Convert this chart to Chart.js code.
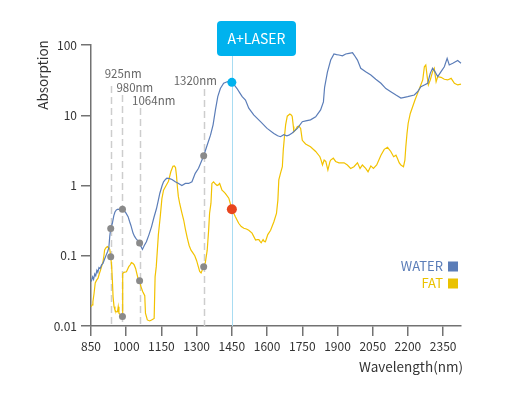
<!DOCTYPE html>
<html>
<head>
<meta charset="utf-8">
<script src="https://cdn.jsdelivr.net/npm/chart.js@4/dist/chart.umd.min.js"></script>
<style>
html,body{margin:0;padding:0;background:#fff;}
#c{display:block;}
</style>
</head>
<body>
<canvas id="c" width="513" height="398"></canvas>
<script>
// ---- data ----
const xTicks = [850, 1000, 1150, 1300, 1450, 1600, 1750, 1900, 2050, 2200, 2350];
const yTicks = [0.01, 0.1, 1, 10, 100];

const waterWavelength = [851,857,861,866,870,875,879,884,889,895,901,908,915,921,926,930,934,941,947,952,958,965,975,984,991,998,1008,1014,1020,1029,1035,1041,1048,1057,1063,1069,1077,1086,1097,1108,1118,1129,1136,1143,1153,1159,1167,1173,1185,1195,1209,1223,1237,1252,1266,1280,1294,1308,1320,1330,1345,1359,1370,1380,1390,1401,1415,1430,1440,1450,1460,1472,1483,1494,1508,1522,1543,1572,1600,1629,1645,1657,1671,1684,1693,1707,1729,1750,1765,1785,1807,1828,1840,1845,1857,1871,1885,1896,1906,1921,1935,1949,1964,1971,1985,1999,2020,2042,2063,2085,2106,2127,2149,2170,2185,2199,2227,2241,2255,2270,2284,2295,2305,2315,2327,2341,2355,2367,2376,2391,2412,2426,2438];
const waterAbsorption = [0.043,0.050,0.046,0.055,0.052,0.062,0.058,0.068,0.066,0.074,0.078,0.090,0.103,0.115,0.13,0.19,0.245,0.29,0.37,0.42,0.45,0.46,0.45,0.46,0.44,0.41,0.36,0.31,0.27,0.21,0.19,0.177,0.165,0.152,0.135,0.123,0.14,0.158,0.2,0.26,0.35,0.47,0.6,0.77,1.0,1.13,1.22,1.27,1.25,1.22,1.13,1.07,1.0,1.07,1.07,1.13,1.49,1.76,2.2,2.65,3.77,5.2,7.3,11.9,18.4,24,28.5,30,30.5,29.4,27,24,21,18.4,16.5,12.6,10.1,8.1,6.5,5.5,5.1,4.95,5.3,5.1,5.2,5.6,6.5,8.1,8.3,8.6,9.5,11.9,15.5,25,41,61,74.5,73,72,70,74.5,76,77.5,72,61,46.6,41.7,37.4,32.5,28.5,24,21.6,19.4,17.6,18,18.4,19.4,21.6,25.5,27,28.5,39.5,46.6,41.7,35.4,41.7,49,64.6,52,55,60,55,52];

const fatWavelength = [851,855,858,863,868,874,880,885,891,901,905,908,914,920,926,930,934,938,941,944,948,952,958,963,966,969,975,984,985,990,1001,1011,1018,1022,1028,1034,1040,1044,1050,1057,1062,1070,1079,1082,1090,1100,1108,1119,1123,1128,1137,1145,1152,1159,1170,1180,1190,1199,1205,1210,1214,1218,1222,1228,1236,1245,1252,1260,1268,1276,1284,1292,1300,1307,1313,1319,1330,1337,1345,1351,1355,1361,1365,1372,1380,1387,1392,1398,1408,1415,1422,1437,1450,1465,1479,1490,1501,1512,1522,1536,1551,1558,1565,1570,1575,1583,1588,1593,1603,1615,1629,1640,1646,1650,1657,1665,1669,1674,1679,1686,1697,1704,1707,1712,1714,1721,1729,1736,1743,1750,1764,1785,1807,1825,1830,1836,1843,1850,1859,1868,1871,1882,1892,1906,1928,1942,1956,1970,1985,1996,2006,2020,2030,2042,2053,2067,2085,2099,2113,2127,2139,2149,2155,2163,2170,2181,2187,2191,2196,2201,2210,2220,2230,2241,2252,2263,2270,2276,2282,2287,2295,2305,2312,2320,2327,2341,2355,2369,2384,2398,2412,2426,2438];
const fatAbsorption = [0.0188,0.020,0.022,0.029,0.041,0.045,0.048,0.055,0.063,0.082,0.10,0.121,0.13,0.135,0.13,0.123,0.097,0.07,0.045,0.026,0.019,0.0169,0.0159,0.016,0.0188,0.0152,0.0145,0.0136,0.056,0.058,0.059,0.070,0.075,0.08,0.078,0.074,0.066,0.058,0.048,0.044,0.037,0.031,0.027,0.0152,0.0122,0.0118,0.0122,0.0128,0.05,0.07,0.2,0.36,0.65,0.86,1.0,1.15,1.57,1.88,1.9,1.8,1.4,0.95,0.7,0.55,0.42,0.32,0.24,0.18,0.14,0.12,0.11,0.10,0.085,0.07,0.06,0.057,0.070,0.08,0.12,0.23,0.40,0.56,1.07,1.13,1.05,1.0,1.02,1.07,0.86,0.82,0.77,0.66,0.46,0.36,0.29,0.26,0.246,0.24,0.23,0.21,0.167,0.17,0.17,0.16,0.153,0.17,0.16,0.158,0.20,0.23,0.305,0.40,0.62,1.2,1.49,1.85,3.2,4.95,7.3,9.7,10.4,10,9.6,6.9,5.8,6.2,6.9,7.0,6.5,4.4,3.9,3.56,3.05,2.57,2.3,1.96,2.3,2.2,1.66,2.2,2.3,2.45,2.2,2.1,2.1,1.96,1.75,1.85,2.1,1.75,1.96,1.75,1.57,1.9,1.75,1.96,2.7,3.27,3.5,3.05,2.57,2.7,2.45,2.1,1.96,1.85,2.3,3.56,5.5,7.7,10.6,13.2,16.5,20.5,25.5,31.8,49,52,35.4,27,31.8,41.7,46.6,30,35.4,34.7,32.5,31.8,33.5,28.5,27,27.8,24];

const markerWavelength = [934, 984, 1057, 1330];
const markerLabels = ['925nm', '980nm', '1064nm', '1320nm'];
const markerWater = [0.245, 0.46, 0.152, 2.65];
const markerFat = [0.097, 0.0136, 0.044, 0.070];

const laserWavelength = 1450;
const laserLabel = 'A+LASER';
const laserWater = 29.4;
const laserFat = 0.46;

const seriesNames = ['WATER', 'FAT'];
const axisTitles = { x: 'Wavelength(nm)', y: 'Absorption' };

// ---- build ----
const FONT = '"Noto Sans CJK KR", "Noto Sans", sans-serif';
Chart.defaults.font.family = FONT;
const BLUE = '#5b7db8', YELLOW = '#f2c200', AXIS = '#727272';

const pts = (xs, ys) => xs.map((x, i) => ({ x, y: ys[i] }));

const overlay = {
  id: 'overlay',
  beforeDatasetsDraw(chart) {
    const { ctx, scales: { x, y }, chartArea } = chart;
    ctx.save();
    const startY = [86, 95, 108, 89];
    ctx.strokeStyle = '#cdcdcd';
    ctx.lineWidth = 1.5;
    ctx.setLineDash([7, 4]);
    markerWavelength.forEach((w, i) => {
      const px = Math.round(x.getPixelForValue(w)) + 0.5;
      ctx.beginPath();
      ctx.moveTo(px, startY[i]);
      ctx.lineTo(px, chartArea.bottom);
      ctx.stroke();
    });
    ctx.setLineDash([]);
    const lx = Math.round(x.getPixelForValue(laserWavelength)) + 0.5;
    ctx.strokeStyle = '#a8dcf2';
    ctx.lineWidth = 1;
    ctx.beginPath();
    ctx.moveTo(lx, 56);
    ctx.lineTo(lx, chartArea.bottom);
    ctx.stroke();
    ctx.restore();
  },
  afterDraw(chart) {
    const { ctx, scales: { x } } = chart;
    ctx.save();
    const offs = [-6, -6, -7.5, -30];
    const ys = [74, 87.5, 101, 81];
    ctx.fillStyle = '#666';
    ctx.font = '11.5px ' + FONT;
    ctx.textBaseline = 'middle';
    ctx.textAlign = 'left';
    markerWavelength.forEach((w, i) => {
      ctx.fillText(markerLabels[i], x.getPixelForValue(w) + offs[i], ys[i]);
    });
    const bx = 217, by = 21, bw = 79, bh = 35, r = 4;
    ctx.fillStyle = '#00b2ee';
    ctx.beginPath();
    ctx.moveTo(bx + r, by);
    ctx.arcTo(bx + bw, by, bx + bw, by + bh, r);
    ctx.arcTo(bx + bw, by + bh, bx, by + bh, r);
    ctx.arcTo(bx, by + bh, bx, by, r);
    ctx.arcTo(bx, by, bx + bw, by, r);
    ctx.closePath();
    ctx.fill();
    ctx.fillStyle = '#fff';
    ctx.font = '14px ' + FONT;
    ctx.textAlign = 'center';
    ctx.fillText(laserLabel, bx + bw / 2, by + bh / 2 + 0.5);
    ctx.fillStyle = '#333';
    ctx.font = '13.5px ' + FONT;
    ctx.textAlign = 'right';
    ctx.fillText(axisTitles.x, 463, 367);
    ctx.save();
    ctx.translate(43, 75);
    ctx.rotate(-Math.PI / 2);
    ctx.textAlign = 'center';
    ctx.fillText(axisTitles.y, 0, 0);
    ctx.restore();
    const cols = [BLUE, '#eac200'];
    const ly = [266.5, 283.5];
    ctx.font = '13px ' + FONT;
    ctx.textAlign = 'right';
    seriesNames.forEach((n, i) => {
      ctx.fillStyle = cols[i];
      ctx.fillText(n, 443, ly[i]);
      ctx.fillRect(448, ly[i] - 5, 10, 10);
    });
    ctx.restore();
  }
};

new Chart(document.getElementById('c'), {
  type: 'line',
  data: {
    datasets: [
      { label: seriesNames[0], data: pts(waterWavelength, waterAbsorption), borderColor: BLUE, borderWidth: 1.2, pointRadius: 0, tension: 0, clip: false, order: 3 },
      { label: seriesNames[1], data: pts(fatWavelength, fatAbsorption), borderColor: YELLOW, borderWidth: 1.2, pointRadius: 0, tension: 0, clip: false, order: 4 },
      { type: 'scatter', data: pts(markerWavelength, markerWater).concat(pts(markerWavelength, markerFat)), pointRadius: 3.5, pointBackgroundColor: '#8a8a8a', pointBorderWidth: 0, showLine: false, order: 2 },
      { type: 'scatter', data: [{ x: laserWavelength, y: laserWater }], pointRadius: 4.5, pointBackgroundColor: '#00b2ee', pointBorderWidth: 0, showLine: false, order: 1 },
      { type: 'scatter', data: [{ x: laserWavelength, y: laserFat }], pointRadius: 5, pointBackgroundColor: '#e8451e', pointBorderWidth: 0, showLine: false, order: 0 }
    ]
  },
  options: {
    responsive: false,
    animation: false,
    devicePixelRatio: 1,
    layout: { padding: { top: 45, right: 52, left: 0, bottom: 0 } },
    plugins: { legend: { display: false }, tooltip: { enabled: false } },
    scales: {
      x: {
        type: 'linear', min: 850, max: 2426,
        afterBuildTicks: s => { s.ticks = xTicks.map(v => ({ value: v })); },
        afterFit: s => { s.height = 72; },
        ticks: { color: '#333', font: { size: 12 }, padding: 3, maxRotation: 0, autoSkip: false, callback: v => String(v) },
        grid: { drawOnChartArea: false, drawTicks: true, tickLength: 10, color: AXIS, lineWidth: 1.5 },
        border: { display: true, color: AXIS, width: 1.5 }
      },
      y: {
        type: 'logarithmic', min: 0.01, max: 100,
        afterBuildTicks: s => { s.ticks = yTicks.map(v => ({ value: v })); },
        afterFit: s => { s.width = 91; },
        ticks: { color: '#333', font: { size: 12 }, padding: 4, autoSkip: false, callback: v => String(v) },
        grid: { drawOnChartArea: false, drawTicks: true, tickLength: 10, color: AXIS, lineWidth: 1.5 },
        border: { display: true, color: AXIS, width: 1.5 }
      }
    }
  },
  plugins: [overlay]
});
</script>
</body>
</html>
